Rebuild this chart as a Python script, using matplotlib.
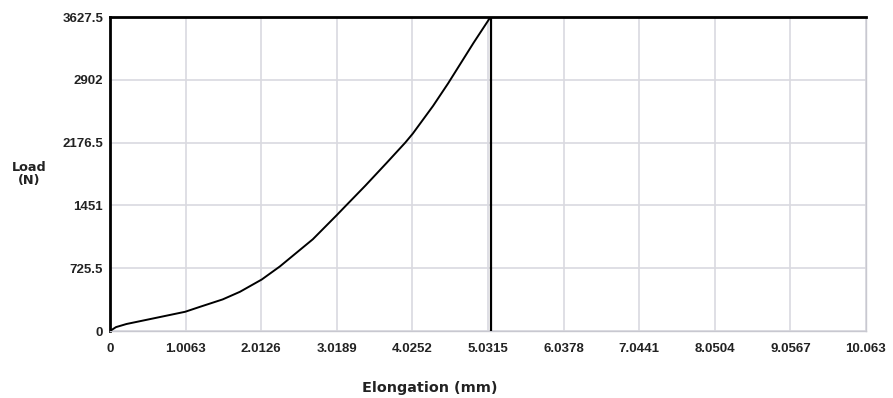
import matplotlib
matplotlib.use("Agg")
import matplotlib.pyplot as plt

# Data
elong = [0, 0.08, 0.22, 0.58, 1.0, 1.2, 1.5, 1.73, 2.02, 2.26, 2.70, 3.02, 3.12, 3.40, 3.68, 3.93, 4.03, 4.30, 4.50, 4.84, 5.065]
load = [0, 45, 81, 146, 222, 280, 365, 453, 595, 745, 1060, 1340, 1430, 1680, 1940, 2176, 2280, 2600, 2860, 3330, 3627.5]
x_ticks = [0, 1.0063, 2.0126, 3.0189, 4.0252, 5.0315, 6.0378, 7.0441, 8.0504, 9.0567, 10.063]
x_labels = ["0", "1.0063", "2.0126", "3.0189", "4.0252", "5.0315", "6.0378", "7.0441", "8.0504", "9.0567", "10.063"]
y_ticks = [0, 725.5, 1451, 2176.5, 2902, 3627.5]
y_labels = ["0", "725.5", "1451", "2176.5", "2902", "3627.5"]
peak_x = 5.065
peak_y = 3627.5

fig = plt.figure(figsize=(8.93, 3.98), dpi=100)
ax = fig.add_axes([110/893, 1-331/398, (866-110)/893, (331-17)/398])

ax.set_xlim(0, 10.063)
ax.set_ylim(0, 3627.5)
ax.set_xticks(x_ticks)
ax.set_xticklabels(x_labels)
ax.set_yticks(y_ticks)
ax.set_yticklabels(y_labels)
ax.grid(True, color="#d9d9e0", linewidth=1.2)
ax.set_axisbelow(True)

for lab in ax.get_xticklabels() + ax.get_yticklabels():
    lab.set_fontfamily("Liberation Sans")
    lab.set_fontweight("bold")
    lab.set_fontsize(9.5)
    lab.set_color("#222222")
ax.tick_params(axis="y", length=0, pad=5)
ax.tick_params(axis="x", length=0, pad=9)

for s in ["right", "bottom"]:
    ax.spines[s].set_color("#c8c8d0")
    ax.spines[s].set_linewidth(1.0)
ax.spines["left"].set_color("black")
ax.spines["left"].set_linewidth(2.0)
ax.spines["top"].set_visible(False)

ax.plot(elong, load, color="black", linewidth=1.4, zorder=3)
ax.axvline(peak_x, color="black", linewidth=1.6, zorder=3)
ax.axhline(peak_y, xmin=0, xmax=1.0, color="black", linewidth=2.0, clip_on=False, zorder=4)

fig.text(430/893, 1-388/398, "Elongation (mm)", ha="center", va="center",
         fontfamily="DejaVu Sans", fontweight="bold", fontsize=10.4, color="#222222")
fig.text(29/893, 1-174/398, "Load\n(N)", ha="center", va="center", linespacing=0.95,
         fontfamily="DejaVu Sans", fontweight="bold", fontsize=9.3, color="#222222")

fig.savefig("out.png", dpi=100)
